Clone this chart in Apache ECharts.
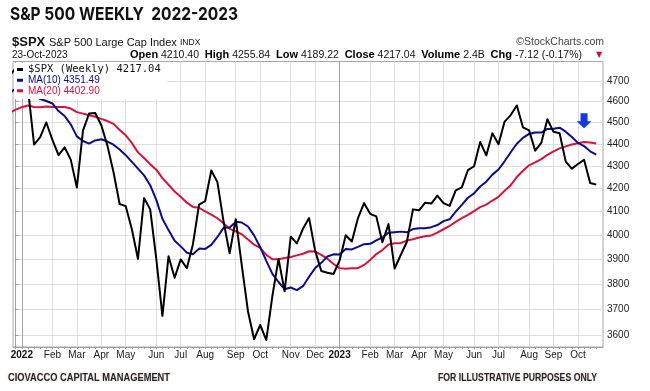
<!DOCTYPE html>
<html><head><meta charset="utf-8">
<script src="https://cdn.jsdelivr.net/npm/echarts@6/dist/echarts.min.js"></script>
<style>html,body{margin:0;padding:0;background:#fff}#c{width:650px;height:391px}</style>
</head><body><div id="c"></div>
<script>
// week index of the first value: -1 = week of 20-Dec-2021 (index 1 = 3-Jan-2022, 53 = 2-Jan-2023, 95 = 23-Oct-2023)
const firstWeek = -1;
const closes = [4726,4766,
 4677,4663,4398,4432,4501,4419,4349,4385,4329,4204,4463,4543,4546,4488,4393,4272,4132,4123,4024,3901,
 4158,4109,3901,3675,3912,3825,3899,3863,3962,4130,4145,4280,4228,4058,3924,4067,3873,3693,3586,3640,
 3583,3753,3901,3771,3993,3965,4026,4072,3934,3852,3845,3840,
 3895,3999,3973,4071,4136,4090,4079,3970,4046,3862,3917,3971,4109,4105,4138,4134,4169,4136,4124,4192,
 4205,4282,4299,4410,4348,4450,4399,4505,4536,4582,4478,4464,4370,4406,4516,4457,4450,4320,4288,4309,
 4328,4224,4217];
const ma10 = [4642.1,4664.2,
 4671.4,4667.9,4639.4,4612.8,4603.4,4591.5,4555.2,4531.6,4491.9,4435.7,4414.3,4402.3,4417.1,4422.7,4411.9,4397.2,4375.5,4349.3,4318.8,4288.5,
 4258.0,4214.6,4150.1,4068.8,4020.7,3976.0,3952.7,3926.7,3920.5,3943.4,3942.1,3959.2,3991.9,4030.2,4031.4,4055.6,4053.0,4036.0,3998.4,3949.4,
 3893.2,3840.5,3807.8,3779.1,3786.0,3775.8,3791.1,3829.0,3863.8,3885.0,3911.2,3919.9,
 3919.3,3942.1,3940.1,3950.7,3961.7,3963.5,3978.0,3989.8,4009.9,4012.1,4014.3,4011.5,4025.1,4028.5,4028.7,4033.1,4042.1,4058.7,4066.5,4099.5,
 4128.3,4159.4,4178.4,4208.9,4229.9,4261.5,4284.5,4321.4,4362.6,4401.6,4428.9,4447.1,4454.2,4453.8,4470.6,4471.3,4476.4,4457.9,4433.1,4405.8,
 4390.8,4366.8,4351.5];
const ma20 = [4547.1,4562.0,
 4573.7,4581.4,4574.6,4573.2,4576.6,4574.8,4574.4,4574.1,4567.0,4550.0,4542.9,4535.1,4528.3,4517.8,4507.7,4494.4,4465.4,4440.5,4405.4,4362.1,
 4336.2,4308.5,4283.6,4245.8,4216.3,4186.6,4164.1,4138.0,4119.7,4116.0,4100.1,4086.9,4071.0,4049.5,4026.1,4015.8,4002.9,3981.4,3959.5,3946.4,
 3917.7,3899.9,3899.9,3904.7,3908.7,3915.7,3922.1,3932.5,3931.1,3917.2,3902.2,3880.2,
 3863.6,3860.6,3863.1,3863.3,3876.4,3896.3,3920.9,3937.4,3960.6,3966.0,3966.8,3976.8,3982.6,3989.6,3995.2,3998.3,4010.1,4024.3,4038.2,4055.8,
 4071.3,4085.5,4101.8,4118.7,4129.3,4147.3,4163.3,4190.1,4214.6,4250.6,4278.6,4303.3,4316.3,4331.4,4350.3,4366.4,4380.5,4389.7,4397.9,4403.7,
 4409.9,4407.0,4402.9];
const xTickWeeks  = [1,6,10,14,18,23,27,31,36,40,45,49,53,58,62,66,70,75,79,84,88,92];
const xTickLabels = ['2022','Feb','Mar','Apr','May','Jun','Jul','Aug','Sep','Oct','Nov','Dec',
                     '2023','Feb','Mar','Apr','May','Jun','Jul','Aug','Sep','Oct'];
const yTicks = [3600,3700,3800,3900,4000,4100,4200,4300,4400,4500,4600,4700];
const seriesNames = ['$SPX (Weekly) 4217.04','MA(10) 4351.49','MA(20) 4402.90'];
const arrowAt = [93, 4509];

const toPairs = arr => arr.map((v, i) => [firstWeek + i, v]);
const weekTicks = closes.map((v, i) => firstWeek + i).filter(w => w >= 0);
const SANS = '"Liberation Sans", Arial, sans-serif';

function fitScale(text, font, target) {
  const ctx = document.createElement('canvas').getContext('2d');
  ctx.font = font;
  return target / ctx.measureText(text).width;
}
const titleText = 'S&P 500 WEEKLY  2022-2023';
const titleFont = '700 18px Inter';
const footFont = '700 11px "Liberation Sans"';
const footL = 'CIOVACCO CAPITAL MANAGEMENT', footR = 'FOR ILLUSTRATIVE PURPOSES ONLY';

const splitColors = xTickLabels.map(l => /^\d{4}$/.test(l) ? '#a4a4a4' : '#dedede');

const chart = echarts.init(document.getElementById('c'), null, {renderer: 'canvas'});
chart.setOption({
  animation: false,
  backgroundColor: '#fff',
  grid: {left: 13, right: 47, top: 61.5, bottom: 44, show: true, borderColor: '#a8a8a8', borderWidth: 1,
         backgroundColor: 'transparent', outerBoundsMode: 'none', containLabel: false},
  xAxis: [{
    type: 'value', min: -0.45, max: 96.1, position: 'bottom',
    axisLine: {show: true, lineStyle: {color: '#a0a0a0', width: 1}},
    axisTick: {show: false, customValues: xTickWeeks},
    splitLine: {show: true, lineStyle: {color: splitColors, width: 1}},
    axisLabel: {
      customValues: xTickWeeks, margin: 3, fontSize: 10, fontFamily: SANS, color: '#222',
      formatter: v => { const k = xTickWeeks.indexOf(Math.round(v)); const t = k >= 0 ? xTickLabels[k] : '';
                        return /^\d{4}$/.test(t) ? '{y|' + t + '}' : t; },
      rich: {y: {fontWeight: 'bold', fontSize: 10, fontFamily: SANS, color: '#111'}}
    }
  }, {
    type: 'value', min: -0.45, max: 96.1, position: 'bottom',
    axisLine: {show: false}, splitLine: {show: false}, axisLabel: {show: false},
    axisTick: {show: true, length: 2, customValues: weekTicks, lineStyle: {color: '#9a9a9a'}}
  }],
  yAxis: {
    type: 'log', logBase: 10, min: 3557, max: 4798, position: 'right',
    axisLine: {show: true, lineStyle: {color: '#a0a0a0'}},
    axisTick: {show: true, length: 3, customValues: yTicks, lineStyle: {color: '#a0a0a0'}},
    splitLine: {show: true, lineStyle: {color: '#dedede', width: 1}},
    minorTick: {show: false}, minorSplitLine: {show: false},
    axisLabel: {customValues: yTicks, margin: 4, fontSize: 10, fontFamily: SANS, color: '#222',
                formatter: v => String(Math.round(v))}
  },
  legend: {
    show: true, z: 20, orient: 'vertical', left: 14, top: 63, itemGap: 0, padding: [1, 6, 3, 3],
    itemWidth: 6, itemHeight: 3, icon: 'rect', selectedMode: false, backgroundColor: '#fff',
    data: [
      {name: seriesNames[0], textStyle: {color: '#111', fontFamily: '"DejaVu Sans Mono", monospace', fontSize: 10.5, lineHeight: 10.5}},
      {name: seriesNames[1], textStyle: {color: '#0b0b8a', fontFamily: SANS, fontSize: 10, lineHeight: 10.5}},
      {name: seriesNames[2], textStyle: {color: '#d4143c', fontFamily: SANS, fontSize: 10, lineHeight: 10.5}}
    ]
  },
  series: [
    {name: seriesNames[2], type: 'line', data: toPairs(ma20), showSymbol: false, z: 2,
     lineStyle: {color: '#d4143c', width: 2}, itemStyle: {color: '#d4143c'}},
    {name: seriesNames[1], type: 'line', data: toPairs(ma10), showSymbol: false, z: 2,
     lineStyle: {color: '#0b0b8a', width: 2}, itemStyle: {color: '#0b0b8a'}},
    {name: seriesNames[0], type: 'line', data: toPairs(closes), showSymbol: false, z: 2,
     lineStyle: {color: '#000', width: 2, join: 'round'}, itemStyle: {color: '#000'},
     markPoint: {silent: true, symbol: 'path://M4,0 L11,0 L11,8 L15,8 L7.5,15 L0,8 L4,8 Z',
       symbolSize: [15, 15], itemStyle: {color: '#1538e6'}, label: {show: false},
       data: [{coord: arrowAt}]}}
  ],
  graphic: [
    {type: 'text', x: 10, y: 15, scaleX: fitScale(titleText, titleFont, 228),
     style: {text: titleText, font: titleFont, fill: '#111', verticalAlign: 'middle'}},
    {type: 'text', x: 12, y: 42.5, style: {text: '$SPX', font: '700 13px "Liberation Sans"', fill: '#111', verticalAlign: 'middle'}},
    {type: 'text', x: 49, y: 43, style: {text: 'S&P 500 Large Cap Index', font: '11px "Liberation Sans"', fill: '#111', verticalAlign: 'middle'}},
    {type: 'text', x: 180, y: 43, style: {text: 'INDX', font: '8.5px "Liberation Sans"', fill: '#111', verticalAlign: 'middle'}},
    {type: 'text', x: 604, y: 42, style: {text: '©StockCharts.com', font: '10.5px "Liberation Sans"', fill: '#444', align: 'right', verticalAlign: 'middle'}},
    {type: 'text', x: 12, y: 55, style: {text: '23-Oct-2023', font: '10px "Liberation Sans"', fill: '#111', verticalAlign: 'middle'}},
    {type: 'text', x: 130, y: 55, style: {
      text: '{b|Open} 4210.40  {b|High} 4255.84  {b|Low} 4189.22  {b|Close} 4217.04  {b|Volume} 2.4B  {b|Chg} -7.12 (-0.17%)',
      font: '10.5px "Liberation Sans"', fill: '#111', verticalAlign: 'middle',
      rich: {b: {font: '700 11px "Liberation Sans"', fill: '#000'}}}},
    {type: 'text', x: 599, y: 55, style: {text: '▼', font: '8px "DejaVu Sans"', fill: '#c8102e', align: 'center', verticalAlign: 'middle'}},
    {type: 'text', x: 8, y: 378, scaleX: fitScale(footL, footFont, 162),
     style: {text: footL, font: footFont, fill: '#1c2340', verticalAlign: 'middle', textShadowColor: 'rgba(225,150,40,0.55)', textShadowBlur: 2}},
    {type: 'text', x: 438, y: 378, scaleX: fitScale(footR, footFont, 159),
     style: {text: footR, font: footFont, fill: '#1c2340', verticalAlign: 'middle', textShadowColor: 'rgba(225,150,40,0.55)', textShadowBlur: 2}}
  ]
});
</script></body></html>
